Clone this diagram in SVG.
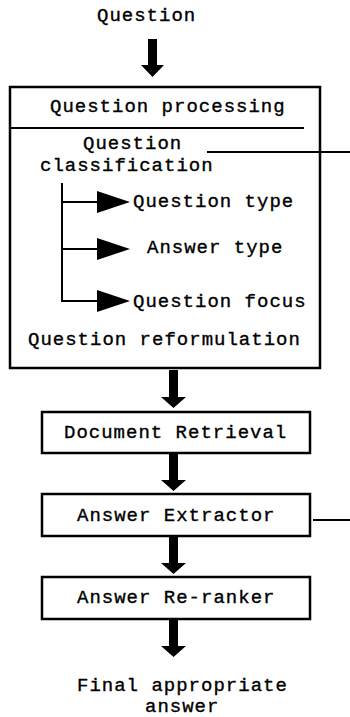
<svg xmlns="http://www.w3.org/2000/svg" width="350" height="717" viewBox="0 0 350 717">
<style>
text{font-family:"Liberation Mono","Courier New",monospace;font-size:19px;letter-spacing:1px;fill:#000;stroke:#000;stroke-width:0.35}
.box{fill:#fff;stroke:#000;stroke-width:2.5}
.ln{stroke:#000;stroke-width:2;fill:none}
.blk{fill:#000}
</style>
<rect width="350" height="717" fill="#fff"/>
<g id="question"><text x="97" y="21">Question</text></g>
<g id="question-processing">
<rect class="box" x="10" y="87" width="310" height="281"/>
<text x="50" y="112">Question processing</text>
<line class="ln" x1="10" y1="128" x2="304" y2="128" stroke-width="1.5"/>
<text x="83" y="149">Question</text>
<text x="40" y="171">classification</text>
<text x="133" y="207">Question type</text>
<text x="147" y="253">Answer type</text>
<text x="133" y="307">Question focus</text>
<text x="28" y="345">Question reformulation</text>
</g>
<g id="document-retrieval">
<rect class="box" x="42" y="412" width="268" height="41"/>
<text x="64" y="438">Document Retrieval</text>
</g>
<g id="answer-extractor">
<rect class="box" x="42" y="494" width="268" height="42"/>
<text x="77" y="521">Answer Extractor</text>
</g>
<g id="answer-reranker">
<rect class="box" x="42" y="577" width="268" height="42"/>
<text x="77" y="603">Answer Re-ranker</text>
</g>
<g id="final-answer">
<text x="77" y="691">Final appropriate</text>
<text x="145" y="712">answer</text>
</g>
<g id="connectors">
<polygon class="blk" points="148,39 157,39 157,65 164,65 152.5,77 141,65 148,65"/>
<polygon class="blk" points="169,370 178,370 178,397 186,397 173.5,408 161,397 169,397"/>
<polygon class="blk" points="169,453 178,453 178,480 186,480 173.5,491 161,480 169,480"/>
<polygon class="blk" points="169,536 178,536 178,563 186,563 173.5,574 161,563 169,563"/>
<polygon class="blk" points="169,619 178,619 178,646 186,646 173.5,657 161,646 169,646"/>
<line class="ln" x1="207" y1="152" x2="350" y2="152"/>
<line class="ln" x1="313" y1="520" x2="350" y2="520"/>
<line class="ln" x1="62" y1="183" x2="62" y2="302" stroke-width="2.5"/>
<line class="ln" x1="62" y1="202" x2="98" y2="202"/>
<line class="ln" x1="62" y1="249" x2="98" y2="249"/>
<line class="ln" x1="62" y1="301" x2="98" y2="301"/>
<polygon class="blk" points="97,191 130,202 97,213"/>
<polygon class="blk" points="97,238 130,249 97,260"/>
<polygon class="blk" points="97,290 130,301 97,312"/>
</g>
</svg>
